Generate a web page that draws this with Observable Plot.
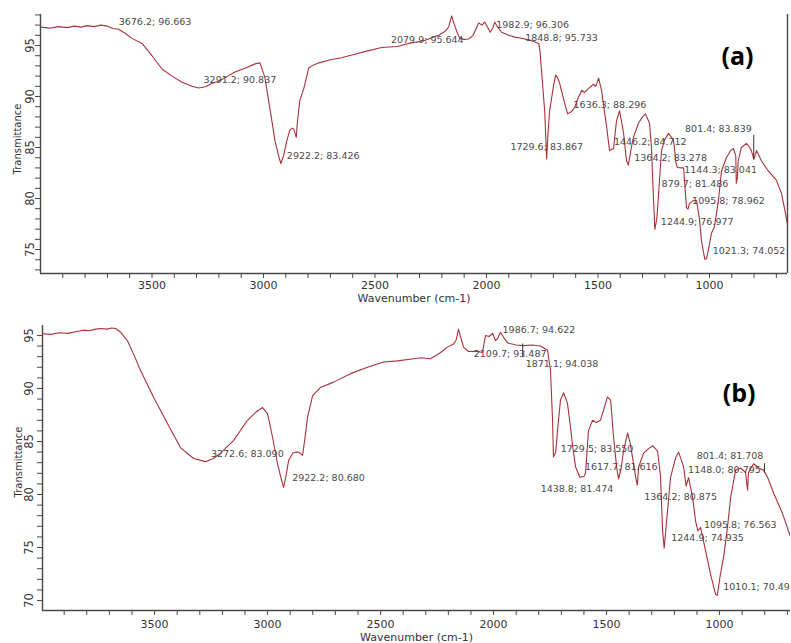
<!DOCTYPE html>
<html><head><meta charset="utf-8">
<script src="https://cdn.jsdelivr.net/npm/d3@7"></script>
<script src="https://cdn.jsdelivr.net/npm/@observablehq/plot@0.6"></script>
<style>
body{margin:0;background:#fff;width:791px;height:643px;overflow:hidden;position:relative;font-family:"DejaVu Sans",sans-serif}
#a{position:absolute;left:0;top:0}
#b{position:absolute;left:0;top:305px}
svg{display:block}
</style></head><body><div id="a"></div><div id="b"></div>
<script>
// ---- Spectrum (a) ----
const wavenumberA = [4000,3960,3920,3880,3850,3820,3790,3760,3730,3700,3676,3650,3620,3590,3545,3500,3455,3410,3365,3320,3291,3260,3230,3200,3160,3128,3080,3038,3016,2994,2977,2960,2949,2930,2922,2910,2895,2882,2870,2864,2853,2848,2837,2819,2797,2775,2752,2700,2650,2600,2528,2470,2400,2349,2300,2277,2240,2214,2185,2170,2156,2145,2130,2120,2100,2080,2060,2035,2020,2008,1995,1983,1970,1963,1950,1932,1900,1870,1849,1800,1766,1760,1753,1739,1730,1725,1717,1699,1690,1680,1672,1650,1636,1620,1605,1590,1573,1560,1542,1520,1510,1497,1484,1461,1448,1430,1417,1403,1385,1372,1364,1350,1341,1318,1300,1287,1269,1260,1255,1245,1236,1228,1215,1202,1184,1170,1161,1150,1144,1125,1116,1112,1103,1096,1090,1072,1058,1045,1036,1021,1013,1000,991,978,960,946,924,905,893,882,879.7,875,871,857,834,820,812,801,789,767,736,700,677,664,650];
const transmittanceA = [96.8,96.7,96.85,96.75,96.9,96.8,96.95,96.85,97.0,96.9,96.66,96.6,96.2,95.7,95.2,94.0,92.7,92.0,91.4,91.0,90.84,90.95,91.3,91.5,92.0,92.4,92.8,93.2,93.3,91.9,89.6,87.3,85.7,84.0,83.43,84.2,85.7,86.7,86.9,86.8,86.0,87.5,89.6,90.8,92.8,93.1,93.3,93.6,93.8,94.1,94.5,94.8,94.9,95.2,95.4,95.5,95.8,96.0,96.4,96.8,97.9,97.1,96.2,95.7,95.6,95.64,96.0,97.2,97.0,97.3,96.8,96.3,96.8,97.3,96.8,96.3,96.0,95.8,95.73,95.5,95.2,94.5,92.5,88.6,83.87,86.0,88.6,91.1,92.1,91.8,91.3,89.4,88.3,88.5,88.9,89.8,90.6,90.4,90.8,91.2,91.0,91.8,90.6,87.0,84.7,84.9,87.6,88.6,86.4,83.7,83.28,85.0,86.0,87.4,88.0,88.3,87.4,85.0,82.1,76.98,78.0,80.5,84.7,85.7,86.4,86.0,85.7,83.5,83.04,83.0,83.0,81.8,79.1,78.96,79.5,79.8,79.8,78.0,75.9,74.05,74.1,75.5,76.6,77.2,79.8,82.7,84.0,84.7,84.9,84.2,81.49,82.0,83.7,85.0,85.4,85.0,84.7,83.84,84.7,83.7,82.7,81.8,80.5,79.1,77.5];

// ---- Spectrum (b) ----
const wavenumberB = [3996,3960,3920,3880,3850,3814,3790,3760,3739,3710,3690,3673,3650,3620,3590,3562,3505,3443,3385,3327,3274,3240,3208,3150,3089,3050,3022,3000,2978,2956,2940,2929,2918,2907,2889,2875,2863,2845,2836,2823,2801,2766,2708,2633,2558,2487,2425,2354,2320,2279,2240,2204,2177,2165,2155,2145,2133,2111,2070,2049,2040,2035,2020,2004,1991,1980,1969,1955,1938,1900,1871,1830,1792,1761,1748,1739,1735,1725,1717,1704,1690,1673,1659,1650,1637,1618,1600,1593,1580,1562,1545,1527,1510,1496,1482,1469,1455,1447,1435,1425,1407,1395,1385,1370,1364,1358,1336,1315,1296,1274,1261,1252,1245,1230,1217,1194,1181,1159,1148,1137,1119,1106,1096,1084,1062,1040,1018,1010,996,982,965,951,929,907,885,876,872,849,827,805,787,760,721,686];
const transmittanceB = [95.16,95.1,95.25,95.2,95.35,95.5,95.45,95.6,95.66,95.6,95.7,95.66,95.3,94.5,93.1,91.7,89.2,86.7,84.4,83.4,83.1,83.4,83.9,85.1,87.0,87.8,88.2,87.6,85.4,82.9,81.5,80.68,81.8,83.2,83.9,84.0,84.0,83.7,85.1,87.3,89.3,90.1,90.6,91.4,92.0,92.5,92.6,92.8,92.9,92.8,93.3,93.9,94.2,94.6,95.6,94.8,93.9,93.49,93.5,93.4,94.5,95.0,94.9,95.2,94.5,94.8,95.3,94.8,94.3,94.1,94.04,94.1,94.0,93.6,91.7,87.0,83.55,84.0,86.0,88.9,89.6,88.6,86.3,84.5,82.6,81.62,81.7,82.0,86.0,87.0,86.8,87.0,88.2,89.2,88.9,85.4,82.5,81.47,82.5,84.1,85.8,84.8,83.5,81.5,80.88,82.6,83.9,84.3,84.6,84.1,81.6,76.6,74.94,78.5,81.6,83.5,84.0,82.6,80.8,81.6,79.7,77.5,76.56,76.9,74.7,72.5,70.6,70.49,72.5,74.1,76.9,79.7,82.3,82.5,82.1,80.4,82.1,82.9,82.5,82.3,81.6,80.1,78.2,76.0];

// ---- Peak annotations ----
const peakWaveA = [3676.2,3291.2,2922.2,2079.9,1982.9,1848.8,1729.6,1636.3,1446.2,1364.2,1244.9,1144.3,879.7,1095.8,1021.3,801.4];
const peakTransA = [96.663,90.837,83.426,95.644,96.306,95.733,83.867,88.296,84.712,83.278,76.977,83.041,81.486,78.962,74.052,83.839];
const peakTextA = ["3676.2; 96.663","3291.2; 90.837","2922.2; 83.426","2079.9; 95.644","1982.9; 96.306","1848.8; 95.733","1729.6; 83.867","1636.3; 88.296","1446.2; 84.712","1364.2; 83.278","1244.9; 76.977","1144.3; 83.041","879.7; 81.486","1095.8; 78.962","1021.3; 74.052","801.4; 83.839"];

const peakWaveB = [3272.6,2922.2,2109.7,1986.7,1871.1,1729.5,1617.7,1438.8,1364.2,1244.9,1148.0,1095.8,1010.1,801.4];
const peakTransB = [83.090,80.680,93.487,94.622,94.038,83.550,81.616,81.474,80.875,74.935,80.795,76.563,70.49,81.708];
const peakTextB = ["3272.6; 83.090","2922.2; 80.680","2109.7; 93.487","1986.7; 94.622","1871.1; 94.038","1729.5; 83.550","1617.7; 81.616","1438.8; 81.474","1364.2; 80.875","1244.9; 74.935","1148.0; 80.795","1095.8; 76.563","1010.1; 70.49","801.4; 81.708"];

// ---- Peak marker ticks (wavenumber, from T, to T) ----
const markerWaveA = [801.4];
const markerFromA = [83.84];
const markerToA = [86.2];
const markerWaveB = [1871.1, 801.4];
const markerFromB = [94.2, 82.9];
const markerToB = [92.9, 82.0];

// ---- Tick values ----
const xTickLabels = [3500,3000,2500,2000,1500,1000];
const xMinorTicks = [3900,3800,3700,3600,3500,3400,3300,3200,3100,3000,2900,2800,2700,2600,2500,2400,2300,2200,2100,2000,1900,1800,1700,1600,1500,1400,1300,1200,1100,1000,900,800,700];
const yTickLabelsA = [75,80,85,90,95];
const yTickLabelsB = [70,75,80,85,90,95];
const yMinorA = [73,74,75,76,77,78,79,80,81,82,83,84,85,86,87,88,89,90,91,92,93,94,95,96,97,98];
const yMinorB = [70,71,72,73,74,75,76,77,78,79,80,81,82,83,84,85,86,87,88,89,90,91,92,93,94,95];

// ---- Label layout (offsets in px from each peak) ----
const layoutA = [[6,-7,"start"],[5,-8,"start"],[6,-8,"start"],[-5,1,"end"],[6,-7,"start"],[5,0,"start"],[0,-12,"middle"],[6,-9,"start"],[4,-9,"start"],[6,-7,"start"],[6,-7,"start"],[7,2,"start"],[-8,1,"end"],[4,-8,"start"],[8,-8,"start"],[-2,-30,"end"]];
const layoutB = [[5,-8,"start"],[7,-9,"start"],[5,2,"start"],[6,-10,"start"],[3,18,"start"],[6,-8,"start"],[5,-10,"start"],[-7,10,"end"],[7,12,"start"],[7,-10,"start"],[2,-16,"start"],[6,-6,"start"],[6,-8,"start"],[-1,-20,"end"]];

const LINE = "#a8323a", AX = "#474747", TXT = "#333", ANN = "#4a4a4a";

function panel(o) {
  const spectrum = o.wn.map((w, i) => ({wn: w, t: o.tr[i]}));
  const peaks = o.pw.map((w, i) => ({wn: w, t: o.pt[i], label: o.ptxt[i]}));
  const markers = o.mw.map((w, i) => ({wn: w, t1: o.mf[i], t2: o.mt[i]}));
  const annMarks = peaks.map((p, i) => Plot.text([p], {
    x: "wn", y: "t", text: "label", dx: o.layout[i][0], dy: o.layout[i][1],
    textAnchor: o.layout[i][2], lineAnchor: "middle", fontSize: 9.5, fill: ANN
  }));
  const marks = [
    Plot.axisY({ticks: o.yMinor, tickSize: 5, tickFormat: () => "", stroke: AX, label: null}),
    Plot.text(o.yLabels, {y: d => d, text: d => String(d), frameAnchor: "left", rotate: -90, dx: o.yLabDx, lineAnchor: "middle", textAnchor: "middle", fontSize: 11.5, fill: TXT}),
    Plot.axisX({ticks: xMinorTicks, tickSize: 5, tickFormat: () => "", stroke: AX, label: null}),
    Plot.axisX({ticks: xTickLabels, tickSize: 0, tickPadding: o.xPad, tickFormat: d => String(d), fontSize: 11, color: TXT, label: null}),
    Plot.ruleX([o.xDomain[0]], {stroke: AX, strokeWidth: 1.4}),
    Plot.ruleY([o.yDomain[0]], {stroke: AX, strokeWidth: 1.6}),
    Plot.text(["Wavenumber (cm-1)"], {frameAnchor: "bottom", dy: o.xTitleDy, lineAnchor: "middle", textAnchor: "middle", fontSize: 11, fill: TXT}),
    Plot.text(["Transmittance"], {frameAnchor: "left", rotate: -90, dx: o.yTitleDx, dy: o.yTitleDy, lineAnchor: "middle", textAnchor: "middle", fontSize: 10, fill: TXT}),
    Plot.line(spectrum, {x: "wn", y: "t", stroke: LINE, strokeWidth: 1.1, clip: true}),
    Plot.ruleX(markers, {x: "wn", y1: "t1", y2: "t2", stroke: "#333", strokeWidth: 1}),
    ...annMarks,
    Plot.text([o.tag], {frameAnchor: "top-right", dx: o.tagDx, dy: o.tagDy, textAnchor: "end", lineAnchor: "middle", fontSize: 25, fontWeight: "bold", fontFamily: "Open Sans", fill: "#000"})
  ];
  if (o.rightLine) marks.push(Plot.ruleX([o.xDomain[1]], {stroke: AX, strokeWidth: 1.4}));
  return Plot.plot({
    width: 791, height: o.height,
    marginTop: o.m[0], marginRight: o.m[1], marginBottom: o.m[2], marginLeft: o.m[3],
    x: {domain: o.xDomain}, y: {domain: o.yDomain},
    style: {fontFamily: "DejaVu Sans", background: "transparent", overflow: "visible"},
    marks
  });
}

document.getElementById("a").append(panel({
  wn: wavenumberA, tr: transmittanceA, pw: peakWaveA, pt: peakTransA, ptxt: peakTextA, layout: layoutA,
  mw: markerWaveA, mf: markerFromA, mt: markerToA,
  xDomain: [4000, 650], yDomain: [72.65, 98.04], height: 305, m: [14, 4, 32, 40],
  yMinor: yMinorA, yLabels: yTickLabelsA, yLabDx: -10, xPad: 8, xTitleDy: 25, yTitleDx: -23, yTitleDy: -5,
  tag: "(a)", tagDx: -34, tagDy: 42, rightLine: true
}));
document.getElementById("b").append(panel({
  wn: wavenumberB, tr: transmittanceB, pw: peakWaveB, pt: peakTransB, ptxt: peakTextB, layout: layoutB,
  mw: markerWaveB, mf: markerFromB, mt: markerToB,
  xDomain: [3996, 686], yDomain: [69.06, 95.94], height: 338, m: [20, 1, 33, 42],
  yMinor: yMinorB, yLabels: yTickLabelsB, yLabDx: -13, xPad: 10, xTitleDy: 27, yTitleDx: -24, yTitleDy: -6,
  tag: "(b)", tagDx: -35, tagDy: 68, rightLine: false
}));
</script>
</body></html>
